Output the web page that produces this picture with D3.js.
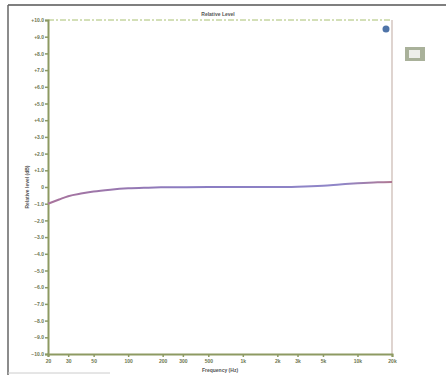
<!DOCTYPE html>
<html>
<head>
<meta charset="utf-8">
<script src="https://cdn.jsdelivr.net/npm/d3@7"></script>
<style>
  body { margin: 0; background: #fff; }
  svg text { font-family: "Liberation Sans", Arial, sans-serif; }
</style>
</head>
<body>
<svg id="chart" width="446" height="375"></svg>
<script>
// frequency response data (Hz, dB)
const freqs = [20, 25, 30, 40, 50, 70, 100, 150, 200, 300, 500, 1000, 2000, 3000, 5000, 7000, 10000, 15000, 20000];
const levels = [-1.0, -0.75, -0.55, -0.38, -0.27, -0.16, -0.08, -0.04, -0.02, -0.01, 0, 0, 0, 0.02, 0.08, 0.15, 0.22, 0.28, 0.3];
const xTicks = [20, 30, 50, 100, 200, 300, 500, 1000, 2000, 3000, 5000, 10000, 20000];
const xTickLabels = ["20", "30", "50", "100", "200", "300", "500", "1k", "2k", "3k", "5k", "10k", "20k"];
const yTicks = d3.range(-10, 11, 1);

const svg = d3.select("#chart");
const plotL = 48, plotR = 392, plotT = 20, plotB = 354;

// scanned window frame
svg.append("line").attr("x1", 8).attr("x2", 446).attr("y1", 5).attr("y2", 5)
  .attr("stroke", "#555").attr("stroke-width", 1.5);
svg.append("line").attr("x1", 8).attr("x2", 8).attr("y1", 5).attr("y2", 375)
  .attr("stroke", "#666").attr("stroke-width", 1.5);
svg.append("line").attr("x1", 8).attr("x2", 110).attr("y1", 373).attr("y2", 373)
  .attr("stroke", "#ccc").attr("stroke-width", 1);

const x = d3.scaleLog().domain([20, 20000]).range([plotL, plotR]);
const y = d3.scaleLinear().domain([-10, 10]).range([plotB, plotT]);

// top dashed border and right border
svg.append("line").attr("x1", plotL).attr("x2", plotR).attr("y1", plotT).attr("y2", plotT)
  .attr("stroke", "#a8c070").attr("stroke-dasharray", "6,2,2,2");
svg.append("line").attr("x1", plotR).attr("x2", plotR).attr("y1", plotT).attr("y2", plotB)
  .attr("stroke", "#c9b8b0").attr("stroke-width", 1.2);

// axes
const yAxis = svg.append("g").attr("transform", `translate(${plotL},0)`)
  .call(d3.axisLeft(y).tickValues(yTicks).tickSize(3)
    .tickFormat(d => d === 0 ? "0" : (d > 0 ? "+" : "") + d3.format(".1f")(d)));
const xAxis = svg.append("g").attr("transform", `translate(0,${plotB})`)
  .call(d3.axisBottom(x).tickValues(xTicks).tickSize(3)
    .tickFormat((d, i) => xTickLabels[i]));

[yAxis, xAxis].forEach(a => {
  a.select(".domain").attr("stroke", "#8d9a62").attr("stroke-width", 2);
  a.selectAll(".tick line").attr("stroke", "#8d9a62").attr("stroke-width", 1.5);
  a.selectAll(".tick text").attr("fill", "#6e7650").attr("font-size", 5).attr("font-weight", "bold");
});
yAxis.selectAll(".tick text").attr("x", -4);
xAxis.selectAll(".tick text").attr("y", 5);

// curve
const grad = svg.append("defs").append("linearGradient").attr("id", "lineGrad")
  .attr("gradientUnits", "userSpaceOnUse")
  .attr("x1", plotL).attr("x2", plotR).attr("y1", 0).attr("y2", 0);
grad.append("stop").attr("offset", "0%").attr("stop-color", "#a8739c");
grad.append("stop").attr("offset", "40%").attr("stop-color", "#8a7cc2");
grad.append("stop").attr("offset", "85%").attr("stop-color", "#8f86c8");
grad.append("stop").attr("offset", "100%").attr("stop-color", "#b07892");

const pts = freqs.map((f, i) => [f, levels[i]]);
svg.append("path").datum(pts)
  .attr("fill", "none").attr("stroke", "url(#lineGrad)").attr("stroke-width", 2)
  .attr("d", d3.line().x(d => x(d[0])).y(d => y(d[1])).curve(d3.curveMonotoneX));

// titles
svg.append("text").attr("x", 218).attr("y", 16).attr("text-anchor", "middle")
  .attr("font-size", 5).attr("font-weight", "bold").attr("fill", "#555").text("Relative Level");
svg.append("text").attr("x", (plotL + plotR) / 2).attr("y", 372).attr("text-anchor", "middle")
  .attr("font-size", 5).attr("font-weight", "bold").attr("fill", "#555").text("Frequency (Hz)");
svg.append("text").attr("transform", `translate(29,${y(0)}) rotate(-90)`).attr("text-anchor", "middle")
  .attr("font-size", 5).attr("font-weight", "bold").attr("fill", "#555").text("Relative level (dB)");

// cursor marker and legend icon
svg.append("circle").attr("cx", 386).attr("cy", 29).attr("r", 3.5).attr("fill", "#4f74a8");
svg.append("rect").attr("x", 405).attr("y", 47).attr("width", 20).attr("height", 14)
  .attr("fill", "#a9b19a");
svg.append("rect").attr("x", 409).attr("y", 50).attr("width", 11).attr("height", 8)
  .attr("fill", "#fff").attr("opacity", 0.8);
</script>
</body>
</html>
